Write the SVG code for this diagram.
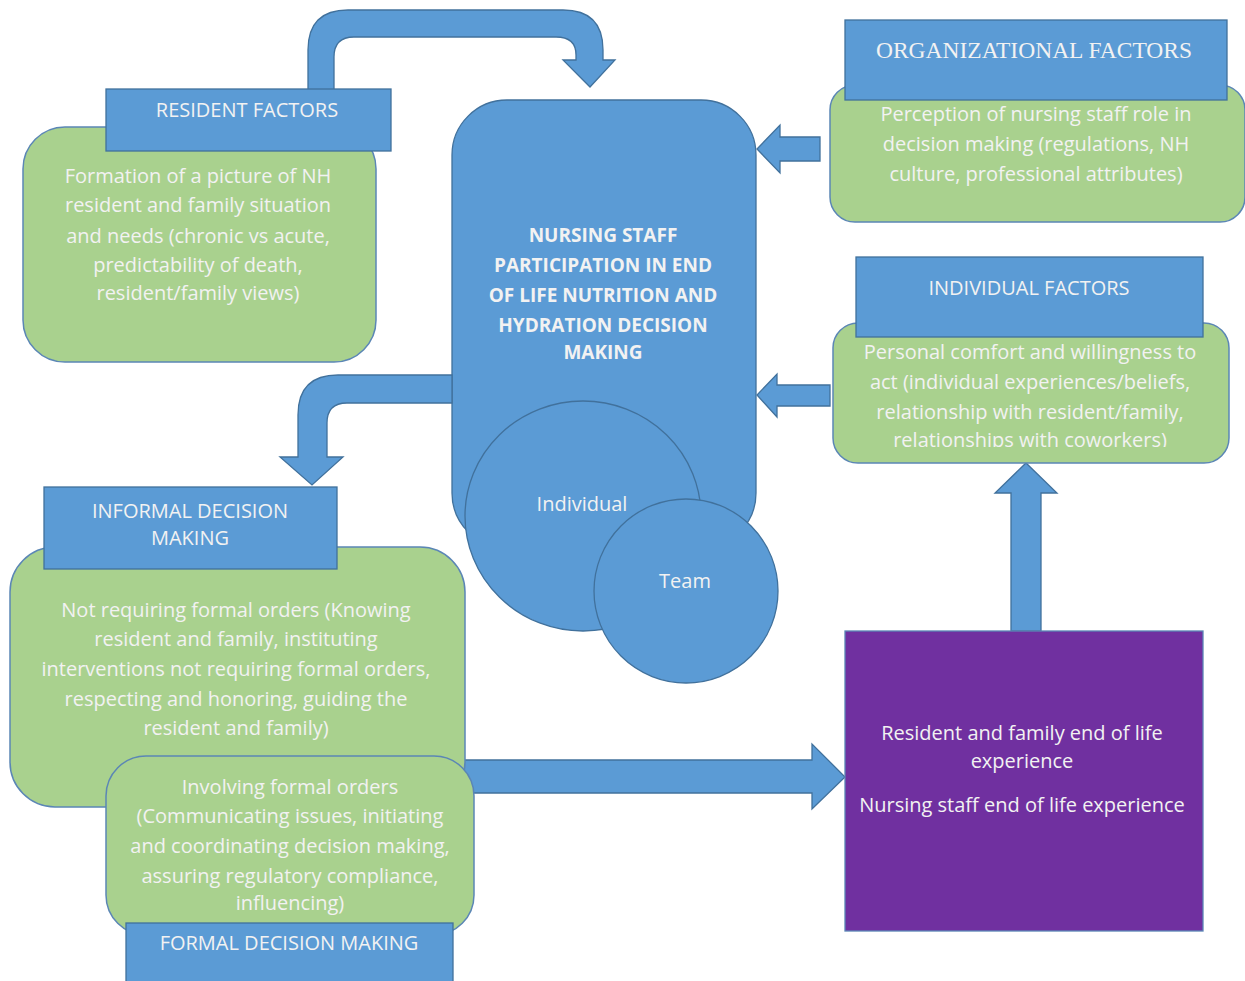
<svg xmlns="http://www.w3.org/2000/svg" width="1245" height="981" viewBox="0 0 1245 981">
<style>
.blue{fill:#5B9BD5;stroke:#41719C;stroke-width:1.3}
.green{fill:#A9D18E;stroke:#5B86B5;stroke-width:1.5}
.purple{fill:#7030A0;stroke:#5B86B5;stroke-width:1.3}
.t{font-family:"Open Sans","Liberation Sans",sans-serif;font-size:20px;font-weight:500;fill:#F2F2F2;text-anchor:middle}
.h{font-family:"Open Sans","Liberation Sans",sans-serif;font-size:20px;font-weight:500;fill:#F2F2F2;text-anchor:middle}
.hb{font-family:"Open Sans","Liberation Sans",sans-serif;font-size:19px;font-weight:bold;fill:#F2F2F2;text-anchor:middle}
.s{font-family:"Liberation Serif",serif;font-size:23.5px;fill:#F2F2F2;text-anchor:middle}
</style>
<defs>
<clipPath id="clipInd"><rect x="833" y="323" width="396" height="124"/></clipPath>
</defs>
<rect width="1245" height="981" fill="#FFFFFF"/>

<g id="center">
<rect class="blue" x="452" y="100" width="304" height="448" rx="55"/>
<text class="hb" x="603" y="242">NURSING STAFF</text>
<text class="hb" x="603" y="272">PARTICIPATION IN END</text>
<text class="hb" x="603" y="302">OF LIFE NUTRITION AND</text>
<text class="hb" x="603" y="332">HYDRATION DECISION</text>
<text class="hb" x="603" y="359">MAKING</text>
</g>
<g id="individual">
<ellipse class="blue" cx="583" cy="516" rx="118" ry="115"/>
<text class="t" x="582" y="511">Individual</text>
</g>
<g id="team">
<circle class="blue" cx="686" cy="591" r="92"/>
<text class="t" x="685" y="588">Team</text>
</g>

<g id="connectors">
<path class="blue" d="M308,90 L308,50 Q308,10 348,10 L563,10 Q603,10 603,50 L603,60 L615,60 L590,87 L563,60 L576,60 L576,55 Q576,37 556,37 L354,37 Q334,37 334,57 L334,90 Z"/>
<path class="blue" d="M820,137 L780,137 L780,125 L757,149 L780,173 L780,161 L820,161 Z"/>
<path class="blue" d="M830,385 L777,385 L777,374 L757,395 L777,417 L777,406 L830,406 Z"/>
<path class="blue" d="M452,375 L338,375 Q298,375 298,415 L298,457 L280,457 L312,485 L343,457 L327,457 L327,423 Q327,403 347,403 L452,403 Z"/>
<path class="blue" d="M1011,631 L1011,493 L995,493 L1026,463 L1057,493 L1041,493 L1041,631 Z"/>
<path class="blue" d="M440,760 L812,760 L812,744 L845,777 L812,809 L812,793 L440,793 Z"/>
</g>

<g id="resident-factors">
<rect class="green" x="23" y="127" width="353" height="235" rx="42"/>
<rect class="blue" x="106" y="89" width="285" height="62"/>
<text class="h" x="247" y="117">RESIDENT FACTORS</text>
<text class="t" x="198" y="183">Formation of a picture of NH</text>
<text class="t" x="198" y="212">resident and family situation</text>
<text class="t" x="198" y="243">and needs (chronic vs acute,</text>
<text class="t" x="198" y="272">predictability of death,</text>
<text class="t" x="198" y="300">resident/family views)</text>
</g>

<g id="organizational-factors">
<rect class="green" x="830" y="85" width="415" height="137" rx="25"/>
<rect class="blue" x="845" y="20" width="382" height="80"/>
<text class="s" x="1034" y="58">ORGANIZATIONAL FACTORS</text>
<text class="t" x="1036" y="121">Perception of nursing staff role in</text>
<text class="t" x="1036" y="151">decision making (regulations, NH</text>
<text class="t" x="1036" y="181">culture, professional attributes)</text>
</g>

<g id="individual-factors">
<rect class="green" x="833" y="323" width="396" height="140" rx="25"/>
<rect class="blue" x="856" y="257" width="347" height="80"/>
<text class="h" x="1029" y="295">INDIVIDUAL FACTORS</text>
<g clip-path="url(#clipInd)">
<text class="t" x="1030" y="359">Personal comfort and willingness to</text>
<text class="t" x="1030" y="389">act (individual experiences/beliefs,</text>
<text class="t" x="1030" y="419">relationship with resident/family,</text>
<text class="t" x="1030" y="447">relationships with coworkers)</text>
</g>
</g>

<g id="informal-decision-making">
<rect class="green" x="10" y="547" width="455" height="260" rx="45"/>
<rect class="blue" x="44" y="487" width="293" height="82"/>
<text class="h" x="190" y="518">INFORMAL DECISION</text>
<text class="h" x="190" y="545">MAKING</text>
<text class="t" x="236" y="617">Not requiring formal orders (Knowing</text>
<text class="t" x="236" y="646">resident and family, instituting</text>
<text class="t" x="236" y="676">interventions not requiring formal orders,</text>
<text class="t" x="236" y="706">respecting and honoring, guiding the</text>
<text class="t" x="236" y="735">resident and family)</text>
</g>

<g id="formal-decision-making">
<rect class="green" x="106" y="756" width="368" height="179" rx="40"/>
<text class="t" x="290" y="794">Involving formal orders</text>
<text class="t" x="290" y="823">(Communicating issues, initiating</text>
<text class="t" x="290" y="853">and coordinating decision making,</text>
<text class="t" x="290" y="883">assuring regulatory compliance,</text>
<text class="t" x="290" y="910">influencing)</text>
<rect class="blue" x="126" y="923" width="327" height="70"/>
<text class="h" x="289" y="950">FORMAL DECISION MAKING</text>
</g>

<g id="outcomes">
<rect class="purple" x="845" y="631" width="358" height="300"/>
<text class="t" x="1022" y="740">Resident and family end of life</text>
<text class="t" x="1022" y="768">experience</text>
<text class="t" x="1022" y="812">Nursing staff end of life experience</text>
</g>
</svg>
